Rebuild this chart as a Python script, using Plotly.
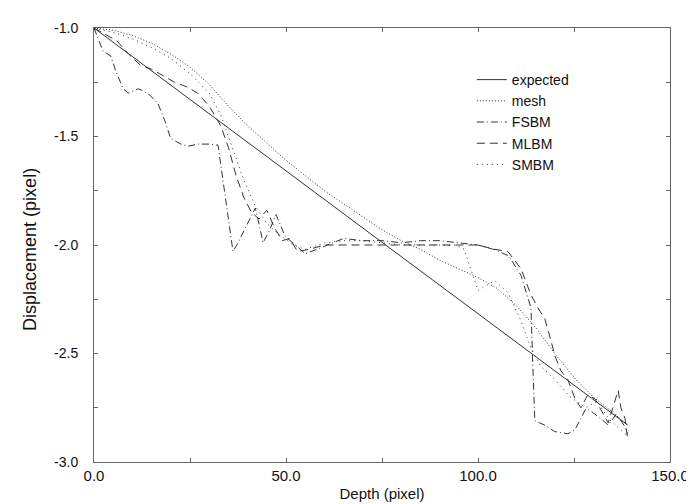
import plotly.graph_objects as go

# ---------------- data ----------------
exp_x = [0, 139]
exp_y = [-1.0, -2.83]

mesh_x = [0, 5, 10, 15, 20, 25, 30, 35, 40, 45, 50, 55, 60, 65, 70, 75, 80, 85, 90,
          95, 100, 105, 110, 115, 120, 125, 130, 135, 139]
mesh_y = [-1.00, -1.01, -1.035, -1.07, -1.12, -1.18, -1.26, -1.36, -1.45, -1.53, -1.61,
          -1.68, -1.75, -1.81, -1.87, -1.93, -1.98, -2.02, -2.07, -2.11, -2.15, -2.20,
          -2.28, -2.38, -2.50, -2.61, -2.70, -2.77, -2.83]

fsbm_x = [0, 2.3, 4.4, 5.7, 7.6, 8.9, 11.5, 12.8, 14.6, 16.7, 18.5, 20, 22.6, 24.5, 27,
          29.7, 32.3, 36.2, 37.5, 40, 42, 43.2, 44, 45.5, 47.4, 49.8, 52.3, 55, 58, 62,
          65, 70, 75, 80, 85, 90, 95, 100, 104, 108, 111.2, 113.8, 114.2, 114.5, 114.8,
          117.4, 120, 123.4, 125.3, 127.9, 128.6, 132, 133.9, 136, 138, 139]
fsbm_y = [-1.00, -1.105, -1.13, -1.20, -1.28, -1.30, -1.28, -1.29, -1.31, -1.35, -1.43,
          -1.51, -1.535, -1.545, -1.535, -1.535, -1.54, -2.03, -1.99, -1.90, -1.83, -1.92,
          -1.99, -1.94, -1.86, -1.96, -2.00, -2.04, -2.02, -1.99, -1.97, -1.98, -1.98,
          -1.99, -1.98, -1.98, -1.99, -2.00, -2.02, -2.05, -2.14, -2.29, -2.52, -2.69,
          -2.81, -2.83, -2.86, -2.87, -2.85, -2.76, -2.755, -2.80, -2.83, -2.78, -2.83,
          -2.87]

mlbm_x = [0, 3, 6, 9, 12, 15, 18, 21, 24, 27, 30, 33, 35, 37, 39, 41, 43, 45, 47, 49,
          51, 53, 56, 60, 70, 80, 90, 100, 104.4, 107.8, 111.2, 113.8, 115.6, 117.4, 119,
          120, 121.6, 123.4, 125.3, 126.8, 128.6, 130.5, 133.9, 136.5, 137.2, 138.3, 139]
mlbm_y = [-1.00, -1.03, -1.06, -1.12, -1.17, -1.19, -1.22, -1.25, -1.27, -1.30, -1.36,
          -1.45, -1.55, -1.68, -1.78, -1.85, -1.88, -1.84, -1.92, -1.98, -1.97, -2.03,
          -2.02, -2.00, -2.00, -2.00, -2.00, -2.00, -2.02, -2.03, -2.11, -2.23, -2.29,
          -2.34, -2.44, -2.51, -2.58, -2.62, -2.71, -2.75, -2.69, -2.71, -2.82, -2.67,
          -2.75, -2.80, -2.90]

smbm_x = [0, 5, 10, 15, 20, 25, 30, 33, 36, 39, 42, 45, 48, 52, 55, 60, 65, 70, 75, 80,
          85, 90, 94, 96.4, 100, 101.8, 104.4, 107.8, 109.6, 111.2, 113, 114.8, 116.4,
          120, 124, 128, 131, 134, 137, 139]
smbm_y = [-1.00, -1.02, -1.05, -1.09, -1.14, -1.21, -1.30, -1.40, -1.55, -1.70, -1.82,
          -1.90, -1.95, -2.00, -2.02, -1.99, -1.98, -1.98, -1.99, -2.00, -2.00, -2.00,
          -2.00, -2.02, -2.21, -2.19, -2.165, -2.22, -2.29, -2.35, -2.44, -2.51, -2.56,
          -2.62, -2.70, -2.75, -2.72, -2.80, -2.85, -2.88]

x_tick_vals = [0, 50, 100, 150]
x_tick_text = ["0.0", "50.0", "100.0", "150.0"]
y_tick_vals = [-3.0, -2.5, -2.0, -1.5, -1.0]
y_tick_text = ["-3.0", "-2.5", "-2.0", "-1.5", "-1.0"]

x_title = "Depth (pixel)"
y_title = "Displacement (pixel)"

# ---------------- figure ----------------
ink = "#333333"
fig = go.Figure()
series = [
    ("expected", exp_x, exp_y, "solid"),
    ("mesh", mesh_x, mesh_y, "1px,2px"),
    ("FSBM", fsbm_x, fsbm_y, "7px,3px,1px,3px"),
    ("MLBM", mlbm_x, mlbm_y, "8px,5px"),
    ("SMBM", smbm_x, smbm_y, "1px,4px"),
]
for name, xs, ys, dash in series:
    fig.add_trace(go.Scatter(x=xs, y=ys, name=name, mode="lines",
                             line=dict(color=ink, width=1, dash=dash)))

font_family = "Liberation Sans, Arial, Helvetica, sans-serif"
axis_common = dict(
    showgrid=False, zeroline=False, showline=True, linecolor="#666666", linewidth=1,
    mirror="ticks", ticks="inside", ticklen=4, tickcolor="#666666",
)
fig.update_xaxes(range=[0, 150], tickvals=x_tick_vals, ticktext=x_tick_text,
                 minor=dict(dtick=25, ticks="inside", ticklen=4, tickcolor="#666666"),
                 tickfont=dict(family=font_family, size=15, color="#111111"),
                 title=dict(text=x_title, standoff=5,
                            font=dict(family=font_family, size=15, color="#111111")),
                 **axis_common)
fig.update_yaxes(range=[-3, -1], tickvals=y_tick_vals, ticktext=y_tick_text,
                 minor=dict(dtick=0.25, ticks="inside", ticklen=4, tickcolor="#666666"),
                 ticklabelstandoff=12,
                 tickfont=dict(family=font_family, size=14, color="#111111"),
                 **axis_common)

plot_l, plot_r, plot_t, plot_b = 86, 32, 15, 49
W, H = 694, 504
fig.add_annotation(text=y_title, xref="paper", yref="paper",
                   x=-(plot_l - 22) / (W - plot_l - plot_r),
                   y=1 - (240 - plot_t) / (H - plot_t - plot_b),
                   xanchor="center", yanchor="middle", textangle=-90, showarrow=False,
                   font=dict(family=font_family, size=18, color="#111111"))

fig.update_layout(
    width=W, height=H,
    margin=dict(l=plot_l, r=plot_r, t=plot_t, b=plot_b),
    paper_bgcolor="white", plot_bgcolor="white",
    font=dict(family=font_family, size=14, color="#111111"),
    legend=dict(x=0.656, y=0.917, xanchor="left", yanchor="top",
                bgcolor="rgba(0,0,0,0)", tracegroupgap=0,
                font=dict(family=font_family, size=14, color="#111111")),
    showlegend=True,
)
fig.write_html("out.html")
